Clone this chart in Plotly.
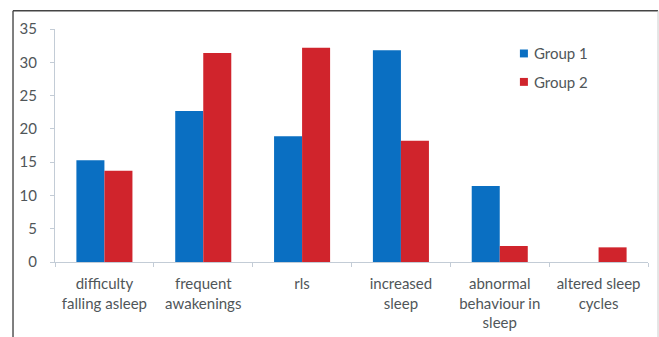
import plotly.graph_objects as go

categories = [
    "difficulty<br>falling asleep",
    "frequent<br>awakenings",
    "rls",
    "increased<br>sleep",
    "abnormal<br>behaviour in<br>sleep",
    "altered sleep<br>cycles",
]
group1 = [15.3, 22.7, 18.9, 31.8, 11.4, 0]
group2 = [13.7, 31.4, 32.2, 18.2, 2.4, 2.2]
series_names = ["Group 1", "Group 2"]
y_ticks = [0, 5, 10, 15, 20, 25, 30, 35]

BLUE = "#0a6fc2"
RED = "#d0242c"
TEXT = "#505659"
AXIS = "#c3ccd6"
FONT = "Lato, Open Sans, sans-serif"

fig = go.Figure()
for name, vals, col in zip(series_names, [group1, group2], [BLUE, RED]):
    fig.add_trace(go.Bar(name=name, x=categories, y=vals, marker_color=col,
                         marker_line_width=0, showlegend=False))

# legend drawn as small squares with labels beside them
shapes = []
annotations = []
legend_x0, legend_y = 0.784, [0.895, 0.773]
for name, col, ly in zip(series_names, [BLUE, RED], legend_y):
    shapes.append(dict(type="rect", xref="paper", yref="paper",
                       x0=legend_x0, x1=legend_x0 + 0.0135,
                       y0=ly - 0.017, y1=ly + 0.017,
                       fillcolor=col, line_width=0))
    annotations.append(dict(text=name, xref="paper", yref="paper",
                            x=legend_x0 + 0.020, y=ly, xanchor="left",
                            yanchor="middle", showarrow=False,
                            font=dict(family=FONT, size=15, color=TEXT)))

# frame around the chart
shapes += [
    dict(type="line", xref="paper", yref="paper",
         x0=-0.0708, x1=-0.0708, y0=1.078, y1=-0.5,
         line=dict(color="#555555", width=1.5)),
    dict(type="line", xref="paper", yref="paper",
         x0=-0.0708, x1=1.0169, y0=1.078, y1=1.078,
         line=dict(color="#444444", width=1.5)),
    dict(type="line", xref="paper", yref="paper",
         x0=1.0169, x1=1.0169, y0=1.078, y1=-0.5,
         line=dict(color="#cccccc", width=1)),
]

fig.update_layout(
    width=659, height=337,
    margin=dict(l=55, r=11, t=29, b=75, autoexpand=False),
    paper_bgcolor="white", plot_bgcolor="white",
    barmode="group", bargap=0.433, bargroupgap=0,
    font=dict(family=FONT, size=15, color=TEXT),
    showlegend=False,
    xaxis=dict(showline=True, linecolor=AXIS, linewidth=1,
               ticks="outside", ticklen=4, tickcolor=AXIS,
               tickson="boundaries", showgrid=False, automargin=False,
               ticklabelstandoff=8,
               tickfont=dict(family=FONT, size=15, color=TEXT)),
    yaxis=dict(range=[0, 35], tickvals=y_ticks, showline=True,
               linecolor=AXIS, linewidth=1, ticks="outside", ticklen=4,
               tickcolor=AXIS, showgrid=False, zeroline=False,
               automargin=False, ticklabelstandoff=10,
               tickfont=dict(family=FONT, size=15, color=TEXT)),
    shapes=shapes,
    annotations=annotations,
)

fig.write_html("out.html")
